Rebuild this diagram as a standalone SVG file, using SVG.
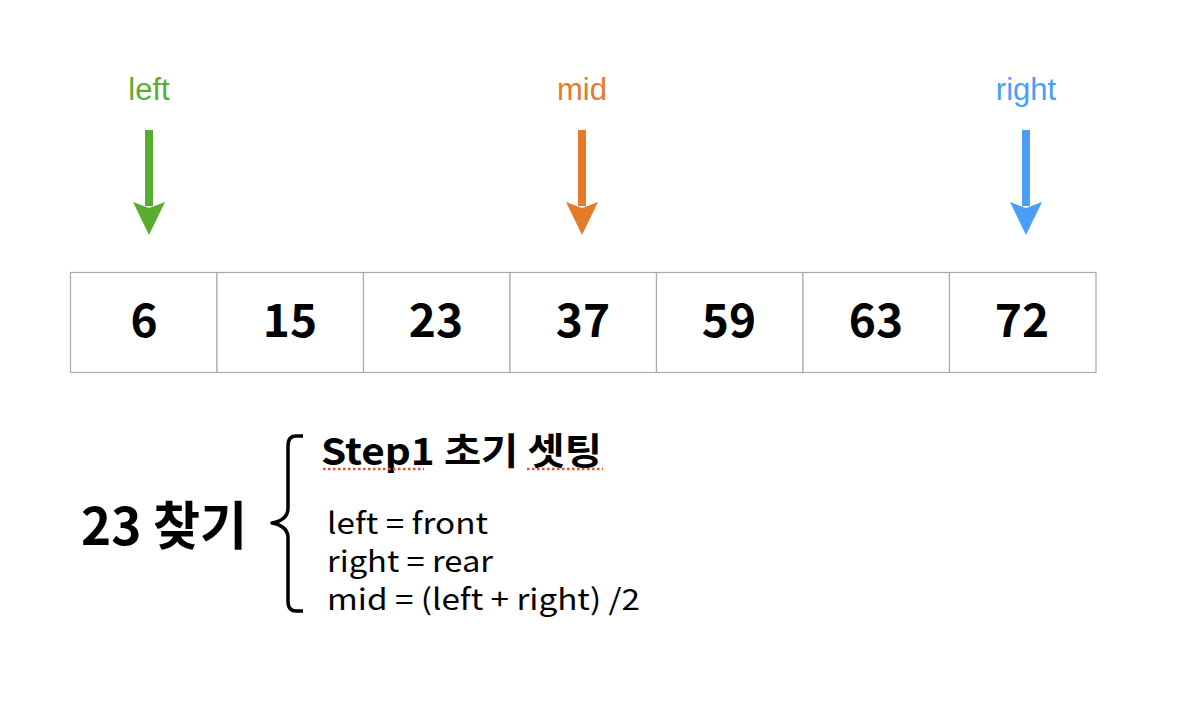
<svg xmlns="http://www.w3.org/2000/svg" width="1180" height="706" viewBox="0 0 1180 706">
<style>
.lbl{font-family:"Liberation Sans","Noto Sans",sans-serif;font-size:31px;text-anchor:middle}
.num{font-family:"Noto Sans CJK KR","Noto Sans",sans-serif;font-weight:bold;font-size:46px;text-anchor:middle;fill:#000}
.cell{fill:#fff;stroke:#aaa;stroke-width:1.2}
.big{font-family:"Noto Sans CJK KR",sans-serif;font-weight:bold;fill:#000}
.body{font-family:"Noto Sans CJK KR","Noto Sans",sans-serif;font-size:29px;fill:#000}
.squig{stroke:#e8503a;stroke-width:2.5;stroke-dasharray:2.5 2.5;fill:none}
</style>
<rect width="1180" height="706" fill="#fff"/>
<g id="pointers">
<g id="left-ptr">
<text class="lbl" x="149" y="100" fill="#5aac2e">left</text>
<rect x="145" y="130" width="8" height="76" fill="#5aac2e"/>
<polygon points="133,202 149,208 165,202 149,235" fill="#5aac2e"/>
</g>
<g id="mid-ptr">
<text class="lbl" x="582" y="100" fill="#e57a2a">mid</text>
<rect x="578" y="130" width="8" height="76" fill="#e57a2a"/>
<polygon points="566,202 582,208 598,202 582,235" fill="#e57a2a"/>
</g>
<g id="right-ptr">
<text class="lbl" x="1026" y="100" fill="#4a9ef7">right</text>
<rect x="1022" y="130" width="8" height="76" fill="#4a9ef7"/>
<polygon points="1010,202 1026,208 1042,202 1026,235" fill="#4a9ef7"/>
</g>
</g>
<g id="array">
<g id="c0"><rect class="cell" x="70.5" y="272.5" width="146.5" height="100"/><text class="num" x="144" y="337">6</text></g>
<g id="c1"><rect class="cell" x="217" y="272.5" width="146.5" height="100"/><text class="num" x="290" y="337">15</text></g>
<g id="c2"><rect class="cell" x="363.5" y="272.5" width="146.5" height="100"/><text class="num" x="436" y="337">23</text></g>
<g id="c3"><rect class="cell" x="510" y="272.5" width="146.5" height="100"/><text class="num" x="583" y="337">37</text></g>
<g id="c4"><rect class="cell" x="656.5" y="272.5" width="146.5" height="100"/><text class="num" x="729" y="337">59</text></g>
<g id="c5"><rect class="cell" x="803" y="272.5" width="146.5" height="100"/><text class="num" x="876" y="337">63</text></g>
<g id="c6"><rect class="cell" x="949.5" y="272.5" width="146.5" height="100"/><text class="num" x="1022" y="337">72</text></g>
</g>
<g id="note">
<text class="big" x="81" y="545" font-size="52" textLength="166" lengthAdjust="spacingAndGlyphs">23 찾기</text>
<path d="M303,436 H296 Q288,436 288,446 V508 Q288,520 272,523 Q288,526 288,538 V601 Q288,611 296,611 H303" fill="none" stroke="#000" stroke-width="3.5" stroke-linejoin="round"/>
<text class="big" x="321" y="465" font-size="37" textLength="281" lengthAdjust="spacingAndGlyphs">Step1 초기 셋팅</text>
<path class="squig" d="M323,469 H424 M527,469 H603"/>
<text class="body" x="327" y="534" textLength="161" lengthAdjust="spacingAndGlyphs">left = front</text>
<text class="body" x="327" y="572" textLength="166" lengthAdjust="spacingAndGlyphs">right = rear</text>
<text class="body" x="327" y="610" textLength="313" lengthAdjust="spacingAndGlyphs">mid = (left + right) /2</text>
</g>
</svg>
